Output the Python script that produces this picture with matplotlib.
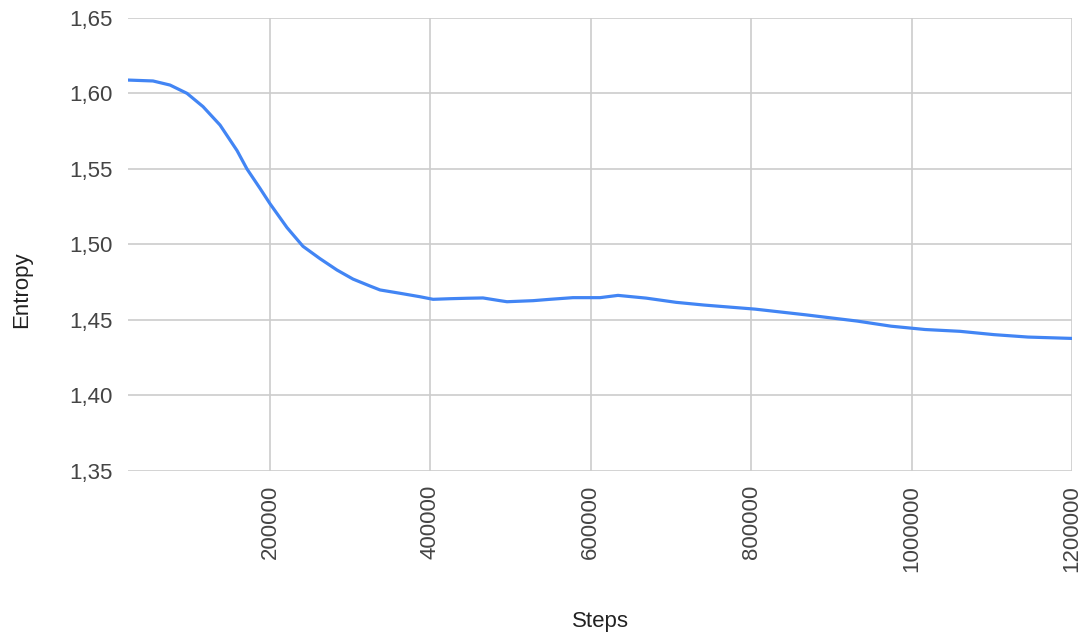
import numpy as np
import matplotlib.pyplot as plt

# values
steps = [22940, 54100, 75300, 96500, 116500, 137700, 158900, 171300, 187500,
         200000, 221200, 241100, 262400, 283500, 303500, 324700, 337200,
         362100, 387100, 403300, 424500, 445600, 465600, 486800, 495500,
         528000, 549200, 577800, 611500, 633900, 668900, 706300, 741200,
         804800, 868400, 932000, 974400, 1016800, 1060400, 1102800, 1145200,
         1187600, 1200000]
entropy = [1.6089, 1.6083, 1.6056, 1.6001, 1.5913, 1.5791, 1.5622, 1.5500,
           1.5372, 1.5270, 1.5112, 1.4988, 1.4906, 1.4831, 1.4771, 1.4725,
           1.4699, 1.4677, 1.4654, 1.4637, 1.4641, 1.4644, 1.4646, 1.4628,
           1.4621, 1.4628, 1.4637, 1.4648, 1.4648, 1.4663, 1.4645, 1.4617,
           1.4599, 1.4572, 1.4534, 1.4493, 1.4459, 1.4437, 1.4425, 1.4403,
           1.4387, 1.4380, 1.4378]

x_ticks = [200000, 400000, 600000, 800000, 1000000, 1200000]
y_ticks = [1.35, 1.40, 1.45, 1.50, 1.55, 1.60, 1.65]

plt.rcParams['font.family'] = ['Liberation Sans', 'DejaVu Sans']

fig = plt.figure(figsize=(10.87, 6.37), dpi=100)
ax = fig.add_axes([128/1087, 1 - 471/637, (1072 - 128)/1087, (471 - 18)/637])

ax.plot(steps, entropy, color='#4285F4', linewidth=2.3,
        solid_capstyle='round', solid_joinstyle='round')

ax.set_xlim(22940, 1200000)
ax.set_ylim(1.35, 1.65)
ax.set_xticks(x_ticks)
ax.set_xticklabels([str(t) for t in x_ticks], rotation=90, va='top', ha='center')
ax.set_yticks(y_ticks)
ax.set_yticklabels([f"{t:.2f}".replace('.', ',') for t in y_ticks])

ax.grid(True, color='#cccccc', linewidth=1.2)
ax.set_axisbelow(True)
for s in ax.spines.values():
    s.set_visible(False)
ax.tick_params(axis='both', length=0, labelsize=16, colors='#444444')
ax.tick_params(axis='y', pad=11)
ax.tick_params(axis='x', pad=10)

fig.text(600/1087, 1 - 622/637, 'Steps', ha='center', va='center',
         fontsize=16, color='#222222')
fig.text(22/1087, 1 - 290/637, 'Entropy', ha='center', va='center',
         rotation=90, fontsize=16, color='#222222')

fig.savefig('out.png', dpi=100)
